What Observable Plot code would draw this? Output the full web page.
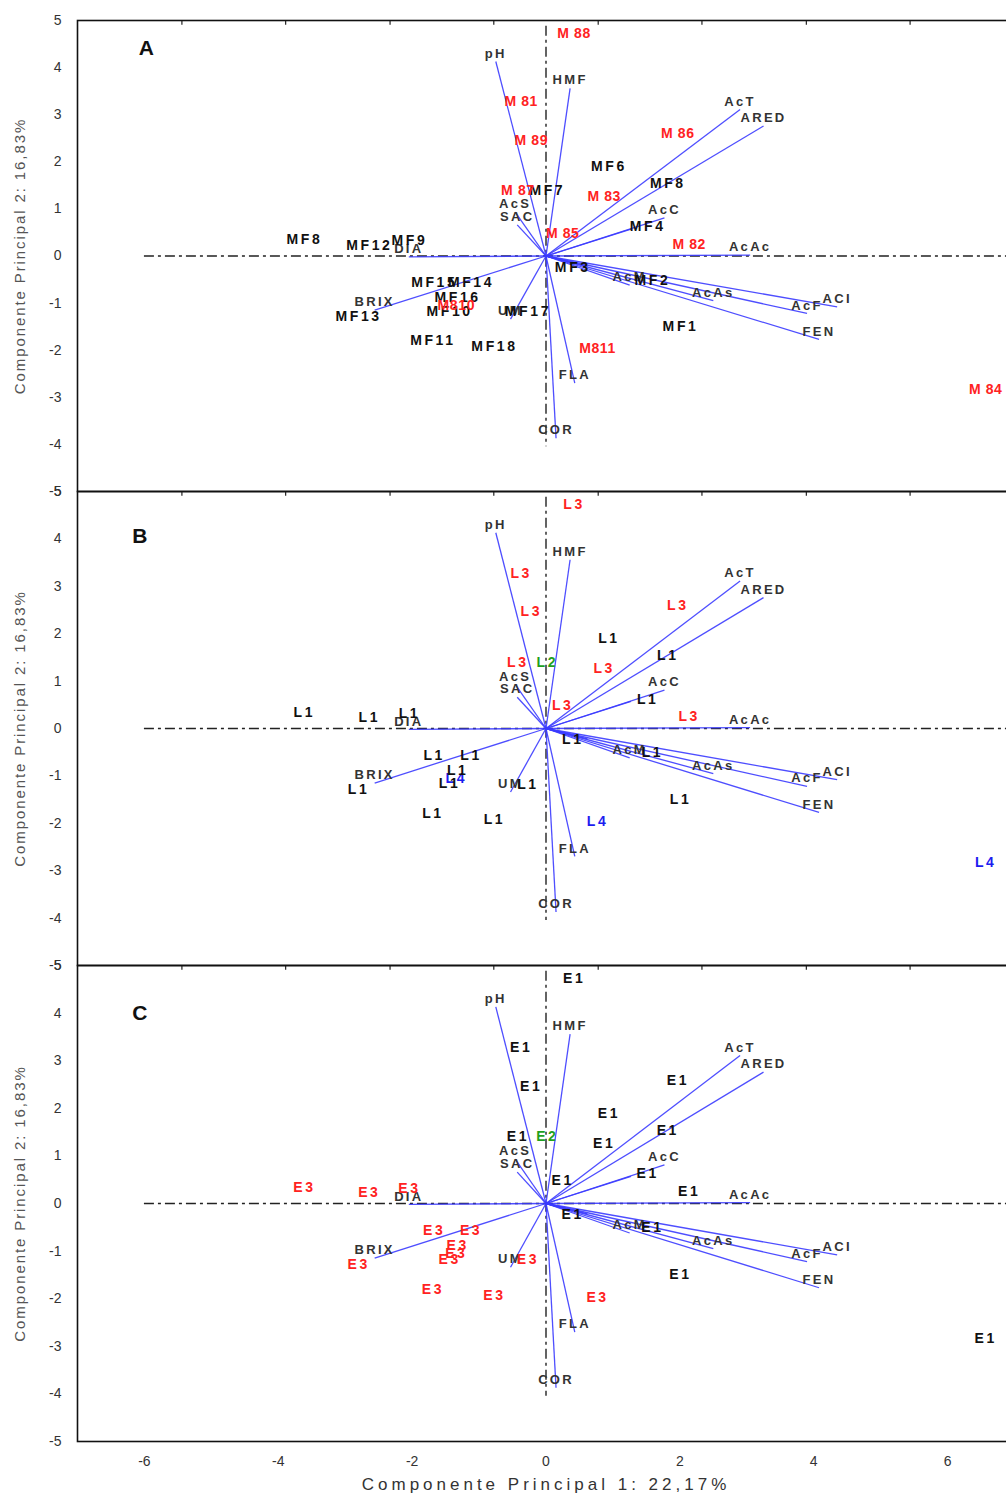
<!DOCTYPE html>
<html>
<head>
<meta charset="utf-8">
<script src="https://cdn.jsdelivr.net/npm/d3@7"></script>
<script src="https://cdn.jsdelivr.net/npm/@observablehq/plot@0.6"></script>
<style>
html, body { margin: 0; padding: 0; background: #fff; overflow: hidden; }
#wrap { position: relative; width: 1006px; height: 1499px; overflow: hidden; background: #fff; }
g.obs text { letter-spacing: 2.6px; }
g.obsm text { letter-spacing: 0.6px; }
g.vlab text { letter-spacing: 2.3px; }
g.ylab text { letter-spacing: 1.9px; }
g.xlab text { letter-spacing: 4px; }
</style>
</head>
<body>
<div id="wrap"></div>
<script>
// ---- axis ticks ----
const xTicks = [-6, -4, -2, 0, 2, 4, 6];
const yTicks = [5, 4, 3, 2, 1, 0, -1, -2, -3, -4, -5];
const topTicks = [-5.44, -3.89, -2.33, -0.78, 0.78, 2.33, 3.89, 5.44];

// ---- variable loadings (vectors) ----
const varNames = ["pH", "HMF", "AcS", "SAC", "AcT", "ARED", "AcC", "", "AcAc", "", "AcM", "AcAs", "ACI", "AcF", "FEN", "DIA", "BRIX", "UM", "FLA", "COR"];
const varX = [-0.75, 0.36, -0.46, -0.43, 2.90, 3.25, 1.77, 1.27, 3.05, 0.62, 1.25, 2.50, 4.35, 3.90, 4.08, -2.05, -2.56, -0.53, 0.43, 0.15];
const varY = [4.13, 3.56, 0.93, 0.66, 3.11, 2.76, 0.81, 0.57, 0.02, -0.22, -0.62, -0.95, -1.08, -1.22, -1.77, -0.02, -1.15, -1.34, -2.70, -3.87];

// ---- observation scores (same positions in the three panels) ----
const obsX = [0.42, -0.37, -0.22, -0.42, 0.02, 0.87, 0.25, 1.97, 2.14, 0.77, -1.34, 6.57, -3.61, -2.64, -2.04, 0.94, 1.82, 1.52, 0.40, 1.59, 2.01, -1.67, -1.12, -1.32, -1.44, -2.80, -0.27, -1.69, -0.77];
const obsY = [4.73, 3.28, 2.46, 1.40, 1.40, 1.26, 0.48, 2.59, 0.25, -1.97, -1.05, -2.83, 0.34, 0.23, 0.32, 1.90, 1.53, 0.62, -0.24, -0.51, -1.50, -0.57, -0.57, -0.88, -1.17, -1.29, -1.18, -1.80, -1.93];

const labelsA = ["M 88", "M 81", "M 89", "M 87", "MF7", "M 83", "M 85", "M 86", "M 82", "M811", "M810", "M 84", "MF8", "MF12", "MF9", "MF6", "MF8", "MF4", "MF3", "MF2", "MF1", "MF15", "MF14", "MF16", "MF10", "MF13", "MF17", "MF11", "MF18"];
const labelsB = ["L3", "L3", "L3", "L3", "L2", "L3", "L3", "L3", "L3", "L4", "L4", "L4", "L1", "L1", "L1", "L1", "L1", "L1", "L1", "L1", "L1", "L1", "L1", "L1", "L1", "L1", "L1", "L1", "L1"];
const labelsC = ["E1", "E1", "E1", "E1", "E2", "E1", "E1", "E1", "E1", "E3", "E3", "E1", "E3", "E3", "E3", "E1", "E1", "E1", "E1", "E1", "E1", "E3", "E3", "E3", "E3", "E3", "E3", "E3", "E3"];

const panelNames = ["A", "B", "C"];
const letterX = [-5.97, -6.07, -6.07];
const letterY = [4.42, 4.05, 4.0];

const xLabel = "Componente Principal 1: 22,17%";
const yLabel = "Componente Principal 2: 16,83%";

const RED = "#ff2222", GREEN = "#1ea01e", BLUE = "#1c1cf0", BLACK = "#111111";
function obsColor(l) {
  if (l.startsWith("MF")) return BLACK;
  if (l.startsWith("M")) return RED;
  if (l === "L2" || l === "E2") return GREEN;
  if (l === "L3" || l === "E3") return RED;
  if (l === "L4") return BLUE;
  return BLACK;
}
const isM8 = l => l.startsWith("M") && !l.startsWith("MF");

const FONT = '"Liberation Sans", Arial, sans-serif';
const vars = varNames.map((n, i) => ({n, x: varX[i], y: varY[i]}));

function panel(k, labels, top, height, marginTop, marginBottom, bottomAxis) {
  const obs = labels.map((l, i) => ({l, x: obsX[i], y: obsY[i], c: obsColor(l)}));
  const marks = [
    Plot.ruleY([0], {x1: -6, x2: 7, stroke: "#222", strokeWidth: 1.4, strokeDasharray: "10,4,3,4"}),
    Plot.ruleX([0], {y1: 4.88, y2: -4.05, stroke: "#222", strokeWidth: 1.4, strokeDasharray: "10,4,3,4"}),
    Plot.link(vars, {x1: 0, y1: 0, x2: "x", y2: "y", stroke: "#3b3bff", strokeWidth: 1.3, strokeOpacity: 0.9}),
    Plot.text(vars.filter(d => d.n), {x: "x", y: "y", text: "n", dy: -8, fill: "#333", fontWeight: "bold", fontSize: 13, className: "vlab"}),
    Plot.text(obs.filter(d => !isM8(d.l)), {x: "x", y: "y", text: "l", fill: "c", fontWeight: "bold", fontSize: 14, className: "obs"}),
    Plot.text(obs.filter(d => isM8(d.l)), {x: "x", y: "y", text: "l", fill: "c", fontWeight: "bold", fontSize: 14, className: "obsm"}),
    Plot.text([panelNames[k]], {x: () => letterX[k], y: () => letterY[k], text: d => d, fontWeight: "bold", fontSize: 21, fill: "#111"}),
    Plot.ruleX(topTicks, {x: d => d, y1: 5, y2: 4.9, stroke: "#222", strokeWidth: 1.2}),
    Plot.frame({stroke: "#111", strokeWidth: 1.6}),
    Plot.axisY({ticks: yTicks, tickSize: 0, tickPadding: 16, tickFormat: d => String(d), label: null, fontSize: 14, color: "#333"}),
    Plot.text([yLabel], {frameAnchor: "left", textAnchor: "middle", rotate: -90, dx: -57, fontSize: 15, fill: "#555", className: "ylab"})
  ];
  if (bottomAxis) {
    marks.push(Plot.axisX({ticks: xTicks, tickSize: 0, tickPadding: 15, tickFormat: d => String(d), label: null, fontSize: 14, color: "#333"}));
    marks.push(Plot.text([xLabel], {frameAnchor: "bottom", dy: 48, fontSize: 17, fill: "#333", className: "xlab"}));
  }
  const svg = Plot.plot({
    width: 1014,
    height,
    marginLeft: 77,
    marginRight: 0,
    marginTop,
    marginBottom,
    x: {domain: [-7, 7], axis: bottomAxis ? undefined : null},
    y: {domain: [-5, 5]},
    style: `position:absolute;left:0;top:${top}px;overflow:visible;background:none;max-width:none;font-family:${FONT};`,
    marks
  });
  document.getElementById("wrap").appendChild(svg);
}

panel(0, labelsA, 0, 491, 20, 0, false);
panel(1, labelsB, 491, 474, 0, 0, false);
panel(2, labelsC, 965, 534, 0, 58, true);
</script>
</body>
</html>
